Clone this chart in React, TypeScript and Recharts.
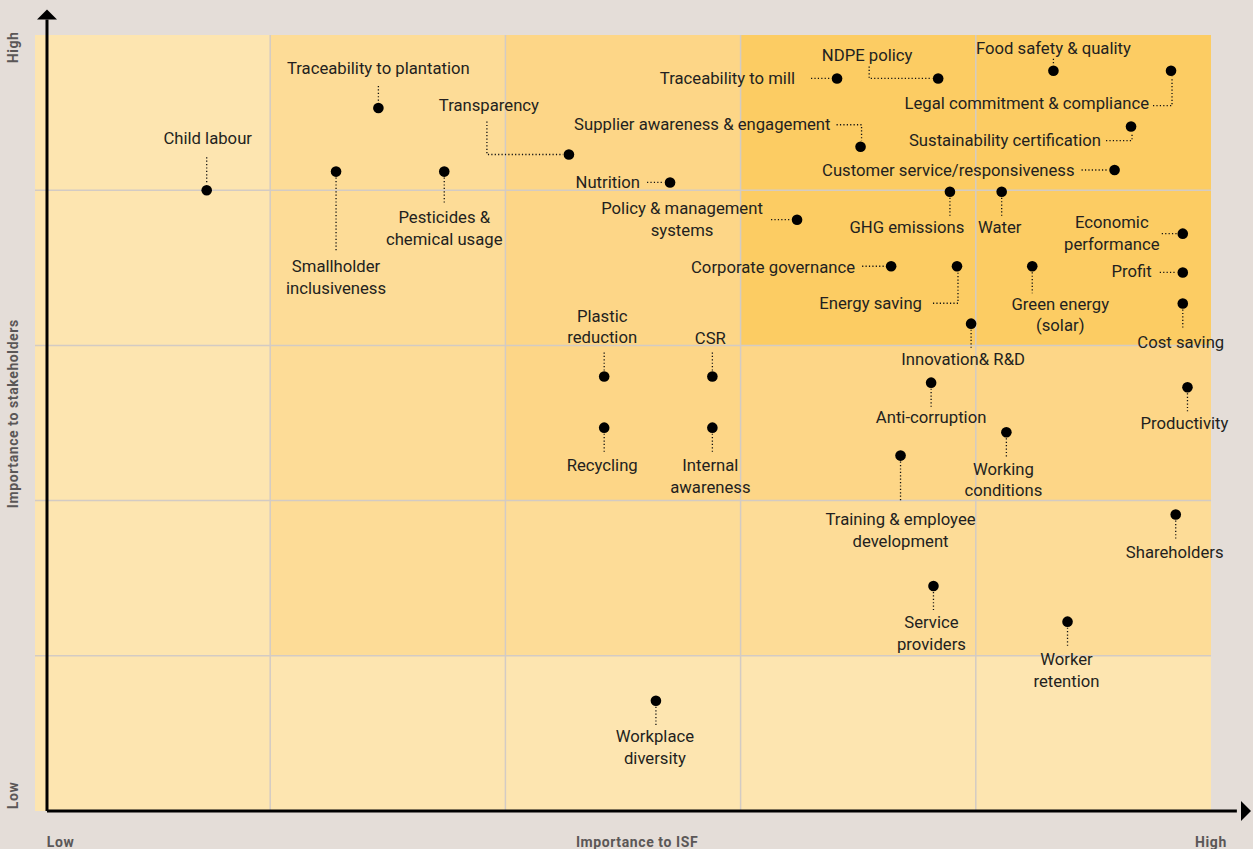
import React from 'react';
import {
  ScatterChart,
  Scatter,
  XAxis,
  YAxis,
  ReferenceArea,
  ReferenceLine,
  ReferenceDot,
} from 'recharts';

// issues on the matrix
const issues = [
  'Child labour',
  'Traceability to plantation',
  'Smallholder inclusiveness',
  'Pesticides & chemical usage',
  'Transparency',
  'Nutrition',
  'Traceability to mill',
  'NDPE policy',
  'Supplier awareness & engagement',
  'Food safety & quality',
  'Legal commitment & compliance',
  'Sustainability certification',
  'Customer service/responsiveness',
  'GHG emissions',
  'Water',
  'Policy & management systems',
  'Economic performance',
  'Corporate governance',
  'Energy saving',
  'Green energy (solar)',
  'Profit',
  'Cost saving',
  'Innovation& R&D',
  'Plastic reduction',
  'CSR',
  'Recycling',
  'Internal awareness',
  'Anti-corruption',
  'Productivity',
  'Working conditions',
  'Training & employee development',
  'Shareholders',
  'Service providers',
  'Worker retention',
  'Workplace diversity',
];

// importance to ISF (x), 0 = low, 5 = high
const isfScores = [
  0.73, 1.46, 1.28, 1.74, 2.27, 2.70, 3.41, 3.84, 3.51, 4.33, 4.83, 4.66,
  4.59, 3.89, 4.11, 3.24, 4.88, 3.64, 3.92, 4.24, 4.88, 4.88, 3.98, 2.42,
  2.88, 2.42, 2.88, 3.81, 4.90, 4.13, 3.68, 4.85, 3.82, 4.39, 2.64,
];

// importance to stakeholders (y), 0 = low, 5 = high
const stakeholderScores = [
  4.0, 4.53, 4.12, 4.12, 4.23, 4.05, 4.72, 4.72, 4.28, 4.77, 4.77, 4.41,
  4.13, 3.99, 3.99, 3.81, 3.72, 3.51, 3.51, 3.51, 3.47, 3.27, 3.14, 2.80,
  2.80, 2.47, 2.47, 2.76, 2.73, 2.44, 2.29, 1.91, 1.45, 1.22, 0.71,
];

const xTickValues = [0.05, 2.56, 5];
const xTickLabels = ['Low', 'Importance to ISF', 'High'];
const yTickValues = [0.1, 2.56, 4.92];
const yTickLabels = ['Low', 'Importance to stakeholders', 'High'];
const gridValues = [1, 2, 3, 4];

// label placement relative to each dot, in px
type Callout = {
  lines: string[];
  dx: number;
  dy: number;
  anchor: 'start' | 'middle' | 'end';
  leader: [number, number][];
};

const callouts: Record<string, Callout> = {
  'Child labour': { lines: ['Child labour'], dx: 1, dy: -52, anchor: 'middle', leader: [[0, -33], [0, -6]] },
  'Traceability to plantation': { lines: ['Traceability to plantation'], dx: 0, dy: -39, anchor: 'middle', leader: [[0, -22], [0, -6]] },
  'Smallholder inclusiveness': { lines: ['Smallholder', 'inclusiveness'], dx: 0, dy: 95, anchor: 'middle', leader: [[0, 6], [0, 80]] },
  'Pesticides & chemical usage': { lines: ['Pesticides &', 'chemical usage'], dx: 0, dy: 46, anchor: 'middle', leader: [[0, 6], [0, 31]] },
  Transparency: { lines: ['Transparency'], dx: -80, dy: -49, anchor: 'middle', leader: [[-82, -33], [-82, 0], [-6, 0]] },
  Nutrition: { lines: ['Nutrition'], dx: -30, dy: 0, anchor: 'end', leader: [[-23, 0], [-6, 0]] },
  'Traceability to mill': { lines: ['Traceability to mill'], dx: -42, dy: 0, anchor: 'end', leader: [[-26, 0], [-6, 0]] },
  'NDPE policy': { lines: ['NDPE policy'], dx: -71, dy: -23, anchor: 'middle', leader: [[-69, -12], [-69, 0], [-6, 0]] },
  'Supplier awareness & engagement': { lines: ['Supplier awareness & engagement'], dx: -30, dy: -22, anchor: 'end', leader: [[-24, -22], [1, -22], [1, -6]] },
  'Food safety & quality': { lines: ['Food safety & quality'], dx: 0, dy: -22, anchor: 'middle', leader: [[0, -12], [0, -6]] },
  'Legal commitment & compliance': { lines: ['Legal commitment & compliance'], dx: -22, dy: 33, anchor: 'end', leader: [[-18, 35], [1, 35], [1, 6]] },
  'Sustainability certification': { lines: ['Sustainability certification'], dx: -30, dy: 14, anchor: 'end', leader: [[-25, 14], [1, 14], [1, 6]] },
  'Customer service/responsiveness': { lines: ['Customer service/responsiveness'], dx: -40, dy: 0, anchor: 'end', leader: [[-33, 0], [-6, 0]] },
  'GHG emissions': { lines: ['GHG emissions'], dx: -43, dy: 36, anchor: 'middle', leader: [[0, 6], [0, 24]] },
  Water: { lines: ['Water'], dx: -2, dy: 36, anchor: 'middle', leader: [[0, 6], [0, 24]] },
  'Policy & management systems': { lines: ['Policy & management', 'systems'], dx: -115, dy: -11, anchor: 'middle', leader: [[-26, 0], [-6, 0]] },
  'Economic performance': { lines: ['Economic', 'performance'], dx: -71, dy: -11, anchor: 'middle', leader: [[-21, 0], [-6, 0]] },
  'Corporate governance': { lines: ['Corporate governance'], dx: -36, dy: 1, anchor: 'end', leader: [[-29, 0], [-6, 0]] },
  'Energy saving': { lines: ['Energy saving'], dx: -35, dy: 37, anchor: 'end', leader: [[-24, 37], [1, 37], [1, 6]] },
  'Green energy (solar)': { lines: ['Green energy', '(solar)'], dx: 28, dy: 38, anchor: 'middle', leader: [[0, 6], [0, 27]] },
  Profit: { lines: ['Profit'], dx: -31, dy: -1, anchor: 'end', leader: [[-23, 0], [-6, 0]] },
  'Cost saving': { lines: ['Cost saving'], dx: -2, dy: 39, anchor: 'middle', leader: [[0, 6], [0, 24]] },
  'Innovation& R&D': { lines: ['Innovation& R&D'], dx: -8, dy: 36, anchor: 'middle', leader: [[0, 6], [0, 24]] },
  'Plastic reduction': { lines: ['Plastic', 'reduction'], dx: -2, dy: -60, anchor: 'middle', leader: [[0, -24], [0, -6]] },
  CSR: { lines: ['CSR'], dx: -2, dy: -38, anchor: 'middle', leader: [[0, -24], [0, -6]] },
  Recycling: { lines: ['Recycling'], dx: -2, dy: 38, anchor: 'middle', leader: [[0, 6], [0, 24]] },
  'Internal awareness': { lines: ['Internal', 'awareness'], dx: -2, dy: 38, anchor: 'middle', leader: [[0, 6], [0, 24]] },
  'Anti-corruption': { lines: ['Anti-corruption'], dx: 0, dy: 35, anchor: 'middle', leader: [[0, 6], [0, 24]] },
  Productivity: { lines: ['Productivity'], dx: -3, dy: 36, anchor: 'middle', leader: [[0, 6], [0, 24]] },
  'Working conditions': { lines: ['Working', 'conditions'], dx: -3, dy: 37, anchor: 'middle', leader: [[0, 6], [0, 25]] },
  'Training & employee development': { lines: ['Training & employee', 'development'], dx: 0, dy: 64, anchor: 'middle', leader: [[0, 6], [0, 47]] },
  Shareholders: { lines: ['Shareholders'], dx: -1, dy: 38, anchor: 'middle', leader: [[0, 6], [0, 24]] },
  'Service providers': { lines: ['Service', 'providers'], dx: -2, dy: 37, anchor: 'middle', leader: [[0, 6], [0, 24]] },
  'Worker retention': { lines: ['Worker', 'retention'], dx: -1, dy: 38, anchor: 'middle', leader: [[0, 6], [0, 24]] },
  'Workplace diversity': { lines: ['Workplace', 'diversity'], dx: -1, dy: 36, anchor: 'middle', leader: [[0, 6], [0, 25]] },
};

const FONT = 'Roboto, sans-serif';
const INK = '#231f20';
const AXIS_X = 0.051;
const AXIS_TOP = 5.165;
const AXIS_RIGHT = 5.17;

const data = issues.map((name, i) => ({
  name,
  isf: isfScores[i],
  stakeholders: stakeholderScores[i],
}));

function IssueShape(props: any) {
  const { cx, cy, payload } = props;
  const c = callouts[payload.name];
  const pts = c.leader.map(([px, py]) => `${cx + px},${cy + py}`).join(' ');
  return (
    <g>
      <polyline points={pts} fill="none" stroke="#111" strokeWidth={1.3} strokeDasharray="1.2 2.2" />
      <circle cx={cx} cy={cy} r={5.3} fill="#000" />
      {c.lines.map((line, i) => (
        <text
          key={i}
          x={cx + c.dx}
          y={cy + c.dy + i * 21.5}
          textAnchor={c.anchor}
          dominantBaseline="central"
          fontFamily={FONT}
          fontSize={16.7}
          fill={INK}
        >
          {line}
        </text>
      ))}
    </g>
  );
}

function XTick(props: any) {
  const idx = xTickValues.indexOf(props.payload.value);
  return (
    <text
      x={props.x}
      y={props.y + 28}
      textAnchor={idx === 0 ? 'start' : 'middle'}
      fontFamily={FONT}
      fontWeight={700}
      fontSize={14}
      letterSpacing={0.6}
      fill="#5b5757"
    >
      {xTickLabels[idx]}
    </text>
  );
}

function YTick(props: any) {
  const idx = yTickValues.indexOf(props.payload.value);
  const x = 13;
  return (
    <text
      x={x}
      y={props.y}
      transform={`rotate(-90, ${x}, ${props.y})`}
      textAnchor="middle"
      dominantBaseline="central"
      fontFamily={FONT}
      fontWeight={700}
      fontSize={14}
      letterSpacing={0.6}
      fill="#5b5757"
    >
      {yTickLabels[idx]}
    </text>
  );
}

export default function App() {
  return (
    <div style={{ position: 'absolute', left: 0, top: 0, width: 1253, height: 849, background: '#e4ddd8' }}>
      <ScatterChart width={1253} height={849} margin={{ top: 35, right: 42, left: 0, bottom: 0 }}>
        <XAxis
          type="number"
          dataKey="isf"
          domain={[0, 5]}
          ticks={xTickValues}
          tick={<XTick />}
          tickLine={false}
          axisLine={false}
          height={38}
          interval={0}
        />
        <YAxis
          type="number"
          dataKey="stakeholders"
          domain={[0, 5]}
          ticks={yTickValues}
          tick={<YTick />}
          tickLine={false}
          axisLine={false}
          width={35}
          interval={0}
        />
        <ReferenceArea x1={0} x2={5} y1={0} y2={5} fill="#fde5b0" fillOpacity={1} stroke="none" />
        <ReferenceArea x1={1} x2={5} y1={1} y2={5} fill="#fddc97" fillOpacity={1} stroke="none" />
        <ReferenceArea x1={2} x2={5} y1={2} y2={5} fill="#fdd687" fillOpacity={1} stroke="none" />
        <ReferenceArea x1={3} x2={5} y1={3} y2={5} fill="#fccc63" fillOpacity={1} stroke="none" />
        {gridValues.map((v) => (
          <ReferenceLine key={`gx${v}`} x={v} stroke="#d3cbc4" strokeWidth={1.5} />
        ))}
        {gridValues.map((v) => (
          <ReferenceLine key={`gy${v}`} y={v} stroke="#d3cbc4" strokeWidth={1.5} />
        ))}
        <ReferenceLine
          segment={[{ x: AXIS_X, y: 0 }, { x: AXIS_X, y: 5.1 }]}
          stroke="#000"
          strokeWidth={3}
          ifOverflow="visible"
        />
        <ReferenceLine
          segment={[{ x: AXIS_X, y: 0 }, { x: 5.11, y: 0 }]}
          stroke="#000"
          strokeWidth={3}
          ifOverflow="visible"
        />
        <ReferenceDot
          x={AXIS_X}
          y={AXIS_TOP}
          ifOverflow="visible"
          shape={(p: any) => (
            <path d={`M${p.cx},${p.cy} L${p.cx - 10},${p.cy + 10} L${p.cx + 10},${p.cy + 10} Z`} fill="#000" />
          )}
        />
        <ReferenceDot
          x={AXIS_RIGHT}
          y={0}
          ifOverflow="visible"
          shape={(p: any) => (
            <path d={`M${p.cx},${p.cy} L${p.cx - 10},${p.cy - 10} L${p.cx - 10},${p.cy + 10} Z`} fill="#000" />
          )}
        />
        <Scatter data={data} shape={<IssueShape />} isAnimationActive={false} />
      </ScatterChart>
    </div>
  );
}
